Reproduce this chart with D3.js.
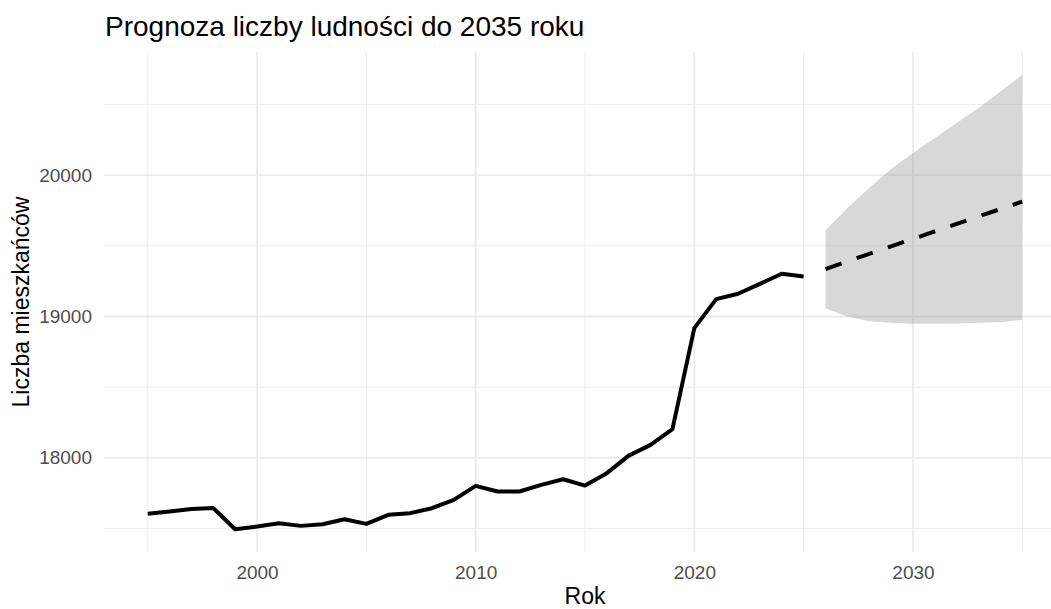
<!DOCTYPE html>
<html>
<meta charset="utf-8">
  <head>
    <!-- Load d3.js -->
    <script src="https://d3js.org/d3.v7.min.js"></script>
    <style>
      body { margin: 0; background: #fff; }
      text { font-family: "Liberation Sans", Arial, sans-serif; }
    </style>
  </head>
  <body>
    <div id="my_dataviz"></div>
    <script>

    // historical data
    var years = [1995, 1996, 1997, 1998, 1999, 2000, 2001, 2002, 2003, 2004,
                 2005, 2006, 2007, 2008, 2009, 2010, 2011, 2012, 2013, 2014,
                 2015, 2016, 2017, 2018, 2019, 2020, 2021, 2022, 2023, 2024, 2025];
    var population = [17604, 17620, 17639, 17645, 17495, 17514, 17538, 17519, 17531, 17566,
                      17533, 17597, 17609, 17644, 17703, 17802, 17762, 17762, 17809, 17849,
                      17804, 17892, 18016, 18092, 18203, 18918, 19123, 19161, 19231, 19302, 19283];

    // forecast with interval
    var forecastYears = [2026, 2027, 2028, 2029, 2030, 2031, 2032, 2033, 2034, 2035];
    var forecast = [19335, 19390, 19443, 19496, 19549, 19602, 19655, 19708, 19760, 19813];
    var upper = [19609, 19767, 19909, 20043, 20156, 20262, 20369, 20475, 20592, 20710];
    var lower = [19059, 19000, 18967, 18955, 18948, 18948, 18950, 18955, 18960, 18977];

    // ticks
    var xTicks = [2000, 2010, 2020, 2030];
    var xMinor = [1995, 2005, 2015, 2025, 2035];
    var yTicks = [18000, 19000, 20000];
    var yMinor = [17500, 18500, 19500, 20500];

    var W = 1051, H = 609;
    var margin = {top: 52, right: -15, bottom: 57, left: 104},
        width = W - margin.left - margin.right,
        height = H - margin.top - margin.bottom;

    var svg = d3.select("#my_dataviz")
      .append("svg")
        .attr("width", W)
        .attr("height", H)
      .append("g")
        .attr("transform", "translate(" + margin.left + "," + margin.top + ")");

    // scales, with ggplot-like 5% expansion
    var x = d3.scaleLinear().domain([1993, 2037]).range([0, width]);
    var ymin = d3.min(population.concat(lower)), ymax = d3.max(population.concat(upper));
    var pad = (ymax - ymin) * 0.05;
    var y = d3.scaleLinear().domain([ymin - pad, ymax + pad]).range([height, 0]);

    // grid lines
    svg.selectAll(".xminor").data(xMinor).enter().append("line")
        .attr("x1", d => x(d)).attr("x2", d => x(d))
        .attr("y1", 0).attr("y2", height)
        .attr("stroke", "#ebebeb").attr("stroke-width", 0.9);
    svg.selectAll(".yminor").data(yMinor).enter().append("line")
        .attr("y1", d => y(d)).attr("y2", d => y(d))
        .attr("x1", 0).attr("x2", width)
        .attr("stroke", "#ebebeb").attr("stroke-width", 0.9);
    svg.selectAll(".xmajor").data(xTicks).enter().append("line")
        .attr("x1", d => x(d)).attr("x2", d => x(d))
        .attr("y1", 0).attr("y2", height)
        .attr("stroke", "#ebebeb").attr("stroke-width", 1.8);
    svg.selectAll(".ymajor").data(yTicks).enter().append("line")
        .attr("y1", d => y(d)).attr("y2", d => y(d))
        .attr("x1", 0).attr("x2", width)
        .attr("stroke", "#ebebeb").attr("stroke-width", 1.8);

    // ribbon
    var fc = forecastYears.map((d, i) => ({year: d, mean: forecast[i], lo: lower[i], hi: upper[i]}));
    svg.append("path")
        .datum(fc)
        .attr("fill", "#7f7f7f")
        .attr("fill-opacity", 0.3)
        .attr("d", d3.area().x(d => x(d.year)).y0(d => y(d.lo)).y1(d => y(d.hi)));

    // history line
    var hist = years.map((d, i) => ({year: d, value: population[i]}));
    svg.append("path")
        .datum(hist)
        .attr("fill", "none")
        .attr("stroke", "black")
        .attr("stroke-width", 4)
        .attr("stroke-linejoin", "round")
        .attr("d", d3.line().x(d => x(d.year)).y(d => y(d.value)));

    // forecast line
    svg.append("path")
        .datum(fc)
        .attr("fill", "none")
        .attr("stroke", "black")
        .attr("stroke-width", 4)
        .attr("stroke-dasharray", "17,16")
        .attr("d", d3.line().x(d => x(d.year)).y(d => y(d.mean)));

    // axes (no ticks or domain line, labels only)
    var xAxis = svg.append("g")
        .attr("transform", "translate(0," + height + ")")
        .call(d3.axisBottom(x).tickValues(xTicks).tickFormat(d3.format("d")).tickSize(0).tickPadding(14));
    var yAxis = svg.append("g")
        .call(d3.axisLeft(y).tickValues(yTicks).tickFormat(d3.format("d")).tickSize(0).tickPadding(12));
    [xAxis, yAxis].forEach(function(a) {
      a.select(".domain").remove();
      a.selectAll("text")
        .style("font-family", "'Liberation Sans', Arial, sans-serif")
        .style("font-size", "19px")
        .attr("fill", "#4d4d4d");
    });

    // titles
    var root = d3.select("svg");
    root.append("text")
        .attr("x", margin.left + 1)
        .attr("y", 36)
        .style("font-size", "28px")
        .attr("fill", "black")
        .text("Prognoza liczby ludności do 2035 roku");
    root.append("text")
        .attr("x", margin.left + width / 2)
        .attr("y", 604)
        .attr("text-anchor", "middle")
        .style("font-size", "23px")
        .text("Rok");
    root.append("text")
        .attr("transform", "translate(29," + (margin.top + height / 2) + ") rotate(-90)")
        .attr("text-anchor", "middle")
        .style("font-size", "23px")
        .text("Liczba mieszkańców");

    </script>
  </body>
</html>
